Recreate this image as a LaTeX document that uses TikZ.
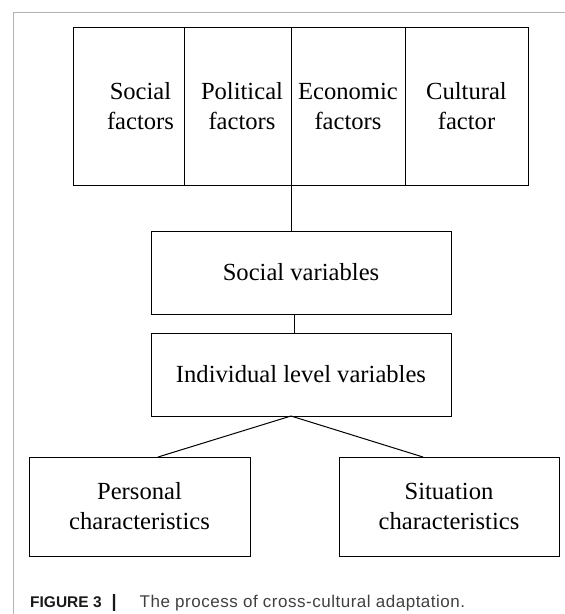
\documentclass[tikz,border=0pt]{standalone}
\usepackage{fontspec}
\setmainfont{Liberation Serif}
\newfontfamily\capfont{Liberation Sans}
\newfontfamily\captrack[LetterSpace=3]{Liberation Sans}
\usepackage{xcolor}
\usepackage{tikz}
\usetikzlibrary{positioning}

\begin{document}
\begin{tikzpicture}[
    node distance=19pt and 0pt,
    box/.style={draw, line width=1pt, outer sep=0pt, inner sep=0pt, align=center, font=\fontsize{24.6}{30}\selectfont},
    cell/.style={box, minimum height=158pt},
    var/.style={box, minimum width=300pt, minimum height=83pt},
    leaf/.style={box, minimum width=221pt, minimum height=99pt},
    link/.style={line width=1pt}
  ]
  \useasboundingbox (0,0) rectangle (565pt,-614pt);
  \draw[black!30, line width=1pt] (13pt,-614pt) -- (13pt,-12pt) -- (565pt,-12pt);

  \node[cell, minimum width=111pt, anchor=north west] (soc) at (73pt,-27pt) {\hspace*{24pt}Social\\\hspace*{24pt}factors};
  \node[cell, minimum width=107pt, right=0pt of soc] (pol) {\hspace*{9pt}Political\\\hspace*{9pt}factors};
  \node[cell, minimum width=114pt, right=0pt of pol] (eco) {Economic\\factors};
  \node[cell, minimum width=123pt, right=0pt of eco] (cul) {Cultural\\factor};

  \node[var, below=46pt of eco.south west, xshift=10pt] (sv) {Social variables};
  \node[var, below=of sv] (ilv) {Individual level variables};

  \node[leaf, below=41pt of ilv.south, xshift=-161.5pt] (pers) {Personal\\characteristics};
  \node[leaf, minimum width=220pt, below=41pt of ilv.south, xshift=148pt] (sit) {Situation\\characteristics};

  \draw[link] (eco.south west) -- (eco.south west |- sv.north);
  \draw[link] ([xshift=-6.7pt]sv.south) -- ([xshift=-6.7pt]ilv.north);
  \draw[link] ([xshift=-10pt]ilv.south) -- ([xshift=18.5pt]pers.north);
  \draw[link] ([xshift=-10pt]ilv.south) -- ([xshift=-26pt]sit.north);

  \node[anchor=base west, inner sep=0pt] (caption) at (30pt,-607.3pt)
    {\color{black!90}\capfont\bfseries\fontsize{15.5}{18}\selectfont FIGURE 3\hspace{10pt}{\fontsize{18}{20}\selectfont |}\hspace{23pt}%
     \color{black!75}\captrack\mdseries\fontsize{17}{20}\selectfont The process of cross-cultural adaptation.};
\end{tikzpicture}
\end{document}
